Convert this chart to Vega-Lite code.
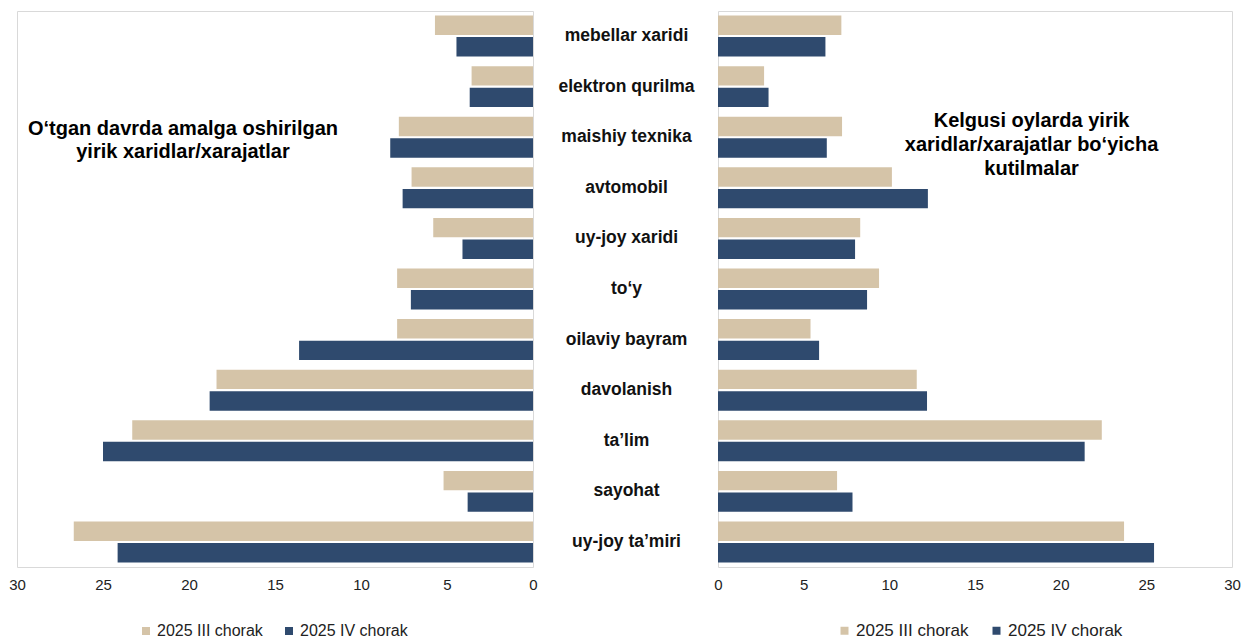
{
  "$schema": "https://vega.github.io/schema/vega-lite/v6.json",
  "background": "white",
  "padding": {"left": 8, "top": 10, "right": 0, "bottom": 0},
  "config": {
    "font": "Liberation Sans",
    "view": {"stroke": "#d9d9d9", "strokeWidth": 1}
  },
  "bounds": "flush",
  "spacing": 185,
  "datasets": {
    "past": [
      {"c": "mebellar xaridi", "p": "2025 III chorak", "v": 5.7},
      {"c": "mebellar xaridi", "p": "2025 IV chorak", "v": 4.45},
      {"c": "elektron qurilma", "p": "2025 III chorak", "v": 3.57},
      {"c": "elektron qurilma", "p": "2025 IV chorak", "v": 3.68},
      {"c": "maishiy texnika", "p": "2025 III chorak", "v": 7.8},
      {"c": "maishiy texnika", "p": "2025 IV chorak", "v": 8.3},
      {"c": "avtomobil", "p": "2025 III chorak", "v": 7.06},
      {"c": "avtomobil", "p": "2025 IV chorak", "v": 7.58},
      {"c": "uy-joy xaridi", "p": "2025 III chorak", "v": 5.8},
      {"c": "uy-joy xaridi", "p": "2025 IV chorak", "v": 4.1},
      {"c": "to‘y", "p": "2025 III chorak", "v": 7.9},
      {"c": "to‘y", "p": "2025 IV chorak", "v": 7.1},
      {"c": "oilaviy bayram", "p": "2025 III chorak", "v": 7.9},
      {"c": "oilaviy bayram", "p": "2025 IV chorak", "v": 13.6},
      {"c": "davolanish", "p": "2025 III chorak", "v": 18.4},
      {"c": "davolanish", "p": "2025 IV chorak", "v": 18.8},
      {"c": "ta’lim", "p": "2025 III chorak", "v": 23.3},
      {"c": "ta’lim", "p": "2025 IV chorak", "v": 25.0},
      {"c": "sayohat", "p": "2025 III chorak", "v": 5.2},
      {"c": "sayohat", "p": "2025 IV chorak", "v": 3.8},
      {"c": "uy-joy ta’miri", "p": "2025 III chorak", "v": 26.7},
      {"c": "uy-joy ta’miri", "p": "2025 IV chorak", "v": 24.15}
    ],
    "next": [
      {"c": "mebellar xaridi", "p": "2025 III chorak", "v": 7.2},
      {"c": "mebellar xaridi", "p": "2025 IV chorak", "v": 6.27},
      {"c": "elektron qurilma", "p": "2025 III chorak", "v": 2.69},
      {"c": "elektron qurilma", "p": "2025 IV chorak", "v": 2.95},
      {"c": "maishiy texnika", "p": "2025 III chorak", "v": 7.24},
      {"c": "maishiy texnika", "p": "2025 IV chorak", "v": 6.35},
      {"c": "avtomobil", "p": "2025 III chorak", "v": 10.15},
      {"c": "avtomobil", "p": "2025 IV chorak", "v": 12.25},
      {"c": "uy-joy xaridi", "p": "2025 III chorak", "v": 8.3},
      {"c": "uy-joy xaridi", "p": "2025 IV chorak", "v": 8.0},
      {"c": "to‘y", "p": "2025 III chorak", "v": 9.4},
      {"c": "to‘y", "p": "2025 IV chorak", "v": 8.7},
      {"c": "oilaviy bayram", "p": "2025 III chorak", "v": 5.4},
      {"c": "oilaviy bayram", "p": "2025 IV chorak", "v": 5.9},
      {"c": "davolanish", "p": "2025 III chorak", "v": 11.6},
      {"c": "davolanish", "p": "2025 IV chorak", "v": 12.2},
      {"c": "ta’lim", "p": "2025 III chorak", "v": 22.4},
      {"c": "ta’lim", "p": "2025 IV chorak", "v": 21.4},
      {"c": "sayohat", "p": "2025 III chorak", "v": 6.95},
      {"c": "sayohat", "p": "2025 IV chorak", "v": 7.85},
      {"c": "uy-joy ta’miri", "p": "2025 III chorak", "v": 23.7},
      {"c": "uy-joy ta’miri", "p": "2025 IV chorak", "v": 25.45}
    ]
  },
  "resolve": {
    "scale": {"color": "independent", "x": "independent", "y": "independent"},
    "legend": {"color": "independent"},
    "axis": {"x": "independent", "y": "independent"}
  },
  "hconcat": [
    {
      "width": 516,
      "height": 556,
      "layer": [
        {
          "data": {"name": "past"},
          "mark": {"type": "bar"},
          "encoding": {
            "y": {
              "field": "c", "type": "nominal",
              "sort": ["mebellar xaridi", "elektron qurilma", "maishiy texnika", "avtomobil", "uy-joy xaridi", "to‘y", "oilaviy bayram", "davolanish", "ta’lim", "sayohat", "uy-joy ta’miri"],
              "scale": {"paddingInner": 0.19, "paddingOuter": 0.09},
              "axis": null
            },
            "yOffset": {
              "field": "p", "type": "nominal",
              "sort": ["2025 III chorak", "2025 IV chorak"],
              "scale": {"paddingInner": 0.1}
            },
            "x": {
              "field": "v", "type": "quantitative",
              "scale": {"domain": [0, 30], "reverse": true, "nice": false},
              "axis": {
                "title": null, "values": [0, 5, 10, 15, 20, 25, 30], "grid": false, "domain": false,
                "ticks": false, "labelFontSize": 15, "labelPadding": 10, "labelColor": "#222222",
                "labelFlush": false, "labelOverlap": false
              }
            },
            "color": {
              "field": "p", "type": "nominal",
              "scale": {"domain": ["2025 III chorak", "2025 IV chorak"], "range": ["#D5C4A8", "#2F4A6E"]},
              "legend": {
                "title": null, "orient": "none", "legendX": 121, "legendY": 612, "direction": "horizontal",
                "symbolType": "square", "symbolSize": 64, "symbolStrokeWidth": 0,
                "labelFontSize": 16, "labelColor": "#222222", "columnPadding": 18, "labelOffset": 3
              }
            }
          }
        },
        {
          "data": {"values": [{}]},
          "mark": {"type": "text", "fontSize": 20, "fontWeight": "bold", "lineHeight": 23, "align": "center", "baseline": "middle", "dy": -8, "color": "#000000"},
          "encoding": {
            "x": {"datum": 20.35},
            "y": {"datum": "maishiy texnika"},
            "text": {"value": ["O‘tgan davrda amalga oshirilgan", "yirik xaridlar/xarajatlar"]}
          }
        }
      ]
    },
    {
      "width": 514,
      "height": 556,
      "layer": [
        {
          "data": {"name": "next"},
          "mark": {"type": "bar"},
          "encoding": {
            "y": {
              "field": "c", "type": "nominal",
              "sort": ["mebellar xaridi", "elektron qurilma", "maishiy texnika", "avtomobil", "uy-joy xaridi", "to‘y", "oilaviy bayram", "davolanish", "ta’lim", "sayohat", "uy-joy ta’miri"],
              "scale": {"paddingInner": 0.19, "paddingOuter": 0.09},
              "axis": {
                "title": null, "domain": false, "ticks": false, "labelAlign": "center",
                "labelPadding": 92, "labelFontSize": 17.5, "labelFontWeight": "bold",
                "labelColor": "#111111", "labelLimit": 300
              }
            },
            "yOffset": {
              "field": "p", "type": "nominal",
              "sort": ["2025 III chorak", "2025 IV chorak"],
              "scale": {"paddingInner": 0.1}
            },
            "x": {
              "field": "v", "type": "quantitative",
              "scale": {"domain": [0, 30], "nice": false},
              "axis": {
                "title": null, "values": [0, 5, 10, 15, 20, 25, 30], "grid": false, "domain": false,
                "ticks": false, "labelFontSize": 15, "labelPadding": 10, "labelColor": "#222222",
                "labelFlush": false, "labelOverlap": false
              }
            },
            "color": {
              "field": "p", "type": "nominal",
              "scale": {"domain": ["2025 III chorak", "2025 IV chorak"], "range": ["#D5C4A8", "#2F4A6E"]},
              "legend": {
                "title": null, "orient": "none", "legendX": 118, "legendY": 611, "direction": "horizontal",
                "symbolType": "square", "symbolSize": 64, "symbolStrokeWidth": 0,
                "labelFontSize": 17, "labelColor": "#222222", "columnPadding": 19, "labelOffset": 3
              }
            }
          }
        },
        {
          "data": {"values": [{}]},
          "mark": {"type": "text", "fontSize": 20, "fontWeight": "bold", "lineHeight": 24, "align": "center", "baseline": "middle", "dy": -16, "color": "#000000"},
          "encoding": {
            "x": {"datum": 18.3},
            "y": {"datum": "maishiy texnika"},
            "text": {"value": ["Kelgusi oylarda yirik", "xaridlar/xarajatlar bo‘yicha", "kutilmalar"]}
          }
        }
      ]
    }
  ]
}
